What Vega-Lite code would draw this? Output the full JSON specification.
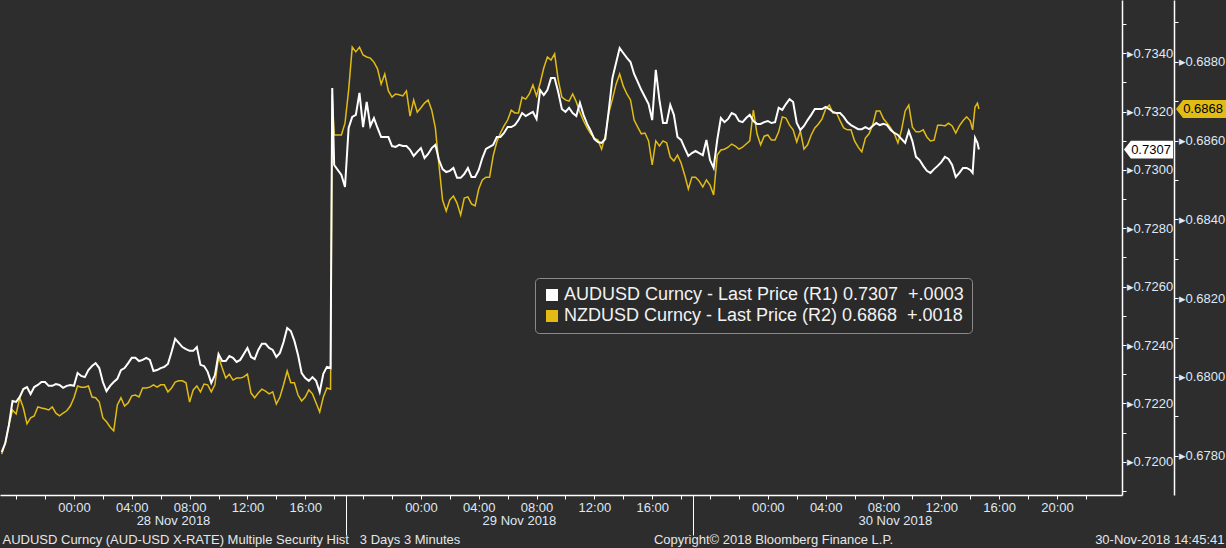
{
  "$schema": "https://vega.github.io/schema/vega-lite/v6.json",
  "width": 1122,
  "height": 495,
  "autosize": {"type": "none"},
  "padding": {"left": 0, "top": 0, "right": 104, "bottom": 53},
  "background": "#2d2d2d",
  "config": {"view": {"stroke": null}, "font": "Liberation Sans", "axis": {"grid": false}},
  "datasets": {
    "px": [
      {"t": "2018-11-27T19:00", "aud": 0.72033, "nzd": 0.67804},
      {"t": "2018-11-27T19:15", "aud": 0.72064, "nzd": 0.67832},
      {"t": "2018-11-27T19:30", "aud": 0.72126, "nzd": 0.67878},
      {"t": "2018-11-27T19:45", "aud": 0.72208, "nzd": 0.67916},
      {"t": "2018-11-27T20:00", "aud": 0.72205, "nzd": 0.67906},
      {"t": "2018-11-27T20:15", "aud": 0.72222, "nzd": 0.67947},
      {"t": "2018-11-27T20:30", "aud": 0.72249, "nzd": 0.67921},
      {"t": "2018-11-27T20:45", "aud": 0.72256, "nzd": 0.67881},
      {"t": "2018-11-27T21:00", "aud": 0.72232, "nzd": 0.67896},
      {"t": "2018-11-27T21:15", "aud": 0.72256, "nzd": 0.67901},
      {"t": "2018-11-27T21:30", "aud": 0.72263, "nzd": 0.67924},
      {"t": "2018-11-27T21:45", "aud": 0.72273, "nzd": 0.67921},
      {"t": "2018-11-27T22:00", "aud": 0.72273, "nzd": 0.67919},
      {"t": "2018-11-27T22:15", "aud": 0.72260, "nzd": 0.67916},
      {"t": "2018-11-27T22:30", "aud": 0.72260, "nzd": 0.67924},
      {"t": "2018-11-27T22:45", "aud": 0.72266, "nzd": 0.67908},
      {"t": "2018-11-27T23:00", "aud": 0.72263, "nzd": 0.67901},
      {"t": "2018-11-27T23:15", "aud": 0.72253, "nzd": 0.67908},
      {"t": "2018-11-27T23:30", "aud": 0.72260, "nzd": 0.67914},
      {"t": "2018-11-27T23:45", "aud": 0.72263, "nzd": 0.67926},
      {"t": "2018-11-28T00:00", "aud": 0.72260, "nzd": 0.67947},
      {"t": "2018-11-28T00:15", "aud": 0.72304, "nzd": 0.67977},
      {"t": "2018-11-28T00:30", "aud": 0.72294, "nzd": 0.67974},
      {"t": "2018-11-28T00:45", "aud": 0.72290, "nzd": 0.67974},
      {"t": "2018-11-28T01:00", "aud": 0.72314, "nzd": 0.67977},
      {"t": "2018-11-28T01:15", "aud": 0.72328, "nzd": 0.67949},
      {"t": "2018-11-28T01:30", "aud": 0.72338, "nzd": 0.67947},
      {"t": "2018-11-28T01:45", "aud": 0.72321, "nzd": 0.67936},
      {"t": "2018-11-28T02:00", "aud": 0.72273, "nzd": 0.67896},
      {"t": "2018-11-28T02:15", "aud": 0.72242, "nzd": 0.67886},
      {"t": "2018-11-28T02:30", "aud": 0.72260, "nzd": 0.67873},
      {"t": "2018-11-28T02:45", "aud": 0.72273, "nzd": 0.67863},
      {"t": "2018-11-28T03:00", "aud": 0.72284, "nzd": 0.67929},
      {"t": "2018-11-28T03:15", "aud": 0.72314, "nzd": 0.67947},
      {"t": "2018-11-28T03:30", "aud": 0.72321, "nzd": 0.67926},
      {"t": "2018-11-28T03:45", "aud": 0.72338, "nzd": 0.67934},
      {"t": "2018-11-28T04:00", "aud": 0.72356, "nzd": 0.67952},
      {"t": "2018-11-28T04:15", "aud": 0.72356, "nzd": 0.67954},
      {"t": "2018-11-28T04:30", "aud": 0.72345, "nzd": 0.67949},
      {"t": "2018-11-28T04:45", "aud": 0.72349, "nzd": 0.67972},
      {"t": "2018-11-28T05:00", "aud": 0.72356, "nzd": 0.67972},
      {"t": "2018-11-28T05:15", "aud": 0.72349, "nzd": 0.67974},
      {"t": "2018-11-28T05:30", "aud": 0.72311, "nzd": 0.67980},
      {"t": "2018-11-28T05:45", "aud": 0.72314, "nzd": 0.67974},
      {"t": "2018-11-28T06:00", "aud": 0.72321, "nzd": 0.67980},
      {"t": "2018-11-28T06:15", "aud": 0.72325, "nzd": 0.67980},
      {"t": "2018-11-28T06:30", "aud": 0.72335, "nzd": 0.67962},
      {"t": "2018-11-28T06:45", "aud": 0.72376, "nzd": 0.67972},
      {"t": "2018-11-28T07:00", "aud": 0.72421, "nzd": 0.67987},
      {"t": "2018-11-28T07:15", "aud": 0.72407, "nzd": 0.67990},
      {"t": "2018-11-28T07:30", "aud": 0.72393, "nzd": 0.67990},
      {"t": "2018-11-28T07:45", "aud": 0.72386, "nzd": 0.67985},
      {"t": "2018-11-28T08:00", "aud": 0.72380, "nzd": 0.67936},
      {"t": "2018-11-28T08:15", "aud": 0.72380, "nzd": 0.67967},
      {"t": "2018-11-28T08:30", "aud": 0.72393, "nzd": 0.67977},
      {"t": "2018-11-28T08:45", "aud": 0.72332, "nzd": 0.67962},
      {"t": "2018-11-28T09:00", "aud": 0.72328, "nzd": 0.67982},
      {"t": "2018-11-28T09:15", "aud": 0.72308, "nzd": 0.67980},
      {"t": "2018-11-28T09:30", "aud": 0.72270, "nzd": 0.67962},
      {"t": "2018-11-28T09:45", "aud": 0.72297, "nzd": 0.67980},
      {"t": "2018-11-28T10:00", "aud": 0.72369, "nzd": 0.68051},
      {"t": "2018-11-28T10:15", "aud": 0.72345, "nzd": 0.68023},
      {"t": "2018-11-28T10:30", "aud": 0.72345, "nzd": 0.67997},
      {"t": "2018-11-28T10:45", "aud": 0.72362, "nzd": 0.68007},
      {"t": "2018-11-28T11:00", "aud": 0.72356, "nzd": 0.67992},
      {"t": "2018-11-28T11:15", "aud": 0.72342, "nzd": 0.67997},
      {"t": "2018-11-28T11:30", "aud": 0.72349, "nzd": 0.67997},
      {"t": "2018-11-28T11:45", "aud": 0.72369, "nzd": 0.68000},
      {"t": "2018-11-28T12:00", "aud": 0.72390, "nzd": 0.68007},
      {"t": "2018-11-28T12:15", "aud": 0.72359, "nzd": 0.67959},
      {"t": "2018-11-28T12:30", "aud": 0.72352, "nzd": 0.67947},
      {"t": "2018-11-28T12:45", "aud": 0.72383, "nzd": 0.67959},
      {"t": "2018-11-28T13:00", "aud": 0.72404, "nzd": 0.67969},
      {"t": "2018-11-28T13:15", "aud": 0.72404, "nzd": 0.67964},
      {"t": "2018-11-28T13:30", "aud": 0.72390, "nzd": 0.67957},
      {"t": "2018-11-28T13:45", "aud": 0.72383, "nzd": 0.67962},
      {"t": "2018-11-28T14:00", "aud": 0.72359, "nzd": 0.67931},
      {"t": "2018-11-28T14:15", "aud": 0.72373, "nzd": 0.67949},
      {"t": "2018-11-28T14:30", "aud": 0.72410, "nzd": 0.67980},
      {"t": "2018-11-28T14:45", "aud": 0.72458, "nzd": 0.68015},
      {"t": "2018-11-28T15:00", "aud": 0.72448, "nzd": 0.67985},
      {"t": "2018-11-28T15:15", "aud": 0.72414, "nzd": 0.67985},
      {"t": "2018-11-28T15:30", "aud": 0.72366, "nzd": 0.67954},
      {"t": "2018-11-28T15:45", "aud": 0.72304, "nzd": 0.67939},
      {"t": "2018-11-28T16:00", "aud": 0.72287, "nzd": 0.67949},
      {"t": "2018-11-28T16:15", "aud": 0.72277, "nzd": 0.67967},
      {"t": "2018-11-28T16:30", "aud": 0.72290, "nzd": 0.67957},
      {"t": "2018-11-28T16:45", "aud": 0.72277, "nzd": 0.67934},
      {"t": "2018-11-28T17:00", "aud": 0.72239, "nzd": 0.67911},
      {"t": "2018-11-28T17:15", "aud": 0.72301, "nzd": 0.67949},
      {"t": "2018-11-28T17:30", "aud": 0.72325, "nzd": 0.67972},
      {"t": "2018-11-28T17:45", "aud": 0.72321, "nzd": 0.67969},
      {"t": "2018-11-28T17:52", "aud": 0.73281, "nzd": 0.68716},
      {"t": "2018-11-28T18:00", "aud": 0.73017, "nzd": 0.68614},
      {"t": "2018-11-28T18:30", "aud": 0.72983, "nzd": 0.68614},
      {"t": "2018-11-28T18:45", "aud": 0.72942, "nzd": 0.68644},
      {"t": "2018-11-28T19:00", "aud": 0.73144, "nzd": 0.68728},
      {"t": "2018-11-28T19:15", "aud": 0.73182, "nzd": 0.68837},
      {"t": "2018-11-28T19:30", "aud": 0.73189, "nzd": 0.68825},
      {"t": "2018-11-28T19:45", "aud": 0.73264, "nzd": 0.68837},
      {"t": "2018-11-28T20:00", "aud": 0.73147, "nzd": 0.68817},
      {"t": "2018-11-28T20:15", "aud": 0.73233, "nzd": 0.68812},
      {"t": "2018-11-28T20:30", "aud": 0.73151, "nzd": 0.68809},
      {"t": "2018-11-28T20:45", "aud": 0.73178, "nzd": 0.68799},
      {"t": "2018-11-28T21:00", "aud": 0.73144, "nzd": 0.68782},
      {"t": "2018-11-28T21:15", "aud": 0.73113, "nzd": 0.68743},
      {"t": "2018-11-28T21:30", "aud": 0.73113, "nzd": 0.68769},
      {"t": "2018-11-28T21:45", "aud": 0.73113, "nzd": 0.68726},
      {"t": "2018-11-28T22:00", "aud": 0.73082, "nzd": 0.68710},
      {"t": "2018-11-28T22:15", "aud": 0.73079, "nzd": 0.68718},
      {"t": "2018-11-28T22:30", "aud": 0.73086, "nzd": 0.68716},
      {"t": "2018-11-28T22:45", "aud": 0.73082, "nzd": 0.68713},
      {"t": "2018-11-28T23:00", "aud": 0.73082, "nzd": 0.68726},
      {"t": "2018-11-28T23:15", "aud": 0.73069, "nzd": 0.68662},
      {"t": "2018-11-28T23:30", "aud": 0.73048, "nzd": 0.68703},
      {"t": "2018-11-28T23:45", "aud": 0.73062, "nzd": 0.68672},
      {"t": "2018-11-29T00:00", "aud": 0.73075, "nzd": 0.68683},
      {"t": "2018-11-29T00:15", "aud": 0.73041, "nzd": 0.68695},
      {"t": "2018-11-29T00:30", "aud": 0.73055, "nzd": 0.68703},
      {"t": "2018-11-29T00:45", "aud": 0.73075, "nzd": 0.68677},
      {"t": "2018-11-29T01:00", "aud": 0.73086, "nzd": 0.68632},
      {"t": "2018-11-29T01:15", "aud": 0.73034, "nzd": 0.68538},
      {"t": "2018-11-29T01:30", "aud": 0.73003, "nzd": 0.68449},
      {"t": "2018-11-29T01:45", "aud": 0.72993, "nzd": 0.68421},
      {"t": "2018-11-29T02:00", "aud": 0.72997, "nzd": 0.68449},
      {"t": "2018-11-29T02:15", "aud": 0.73007, "nzd": 0.68459},
      {"t": "2018-11-29T02:30", "aud": 0.72973, "nzd": 0.68441},
      {"t": "2018-11-29T02:45", "aud": 0.72973, "nzd": 0.68411},
      {"t": "2018-11-29T03:00", "aud": 0.72986, "nzd": 0.68454},
      {"t": "2018-11-29T03:15", "aud": 0.73007, "nzd": 0.68457},
      {"t": "2018-11-29T03:30", "aud": 0.72976, "nzd": 0.68439},
      {"t": "2018-11-29T03:45", "aud": 0.72976, "nzd": 0.68434},
      {"t": "2018-11-29T04:00", "aud": 0.73000, "nzd": 0.68477},
      {"t": "2018-11-29T04:15", "aud": 0.73041, "nzd": 0.68500},
      {"t": "2018-11-29T04:30", "aud": 0.73072, "nzd": 0.68507},
      {"t": "2018-11-29T04:45", "aud": 0.73079, "nzd": 0.68507},
      {"t": "2018-11-29T05:00", "aud": 0.73086, "nzd": 0.68561},
      {"t": "2018-11-29T05:15", "aud": 0.73113, "nzd": 0.68596},
      {"t": "2018-11-29T05:30", "aud": 0.73113, "nzd": 0.68619},
      {"t": "2018-11-29T05:45", "aud": 0.73127, "nzd": 0.68637},
      {"t": "2018-11-29T06:00", "aud": 0.73147, "nzd": 0.68652},
      {"t": "2018-11-29T06:15", "aud": 0.73147, "nzd": 0.68677},
      {"t": "2018-11-29T06:30", "aud": 0.73154, "nzd": 0.68670},
      {"t": "2018-11-29T06:45", "aud": 0.73171, "nzd": 0.68670},
      {"t": "2018-11-29T07:00", "aud": 0.73195, "nzd": 0.68710},
      {"t": "2018-11-29T07:15", "aud": 0.73185, "nzd": 0.68705},
      {"t": "2018-11-29T07:30", "aud": 0.73192, "nzd": 0.68718},
      {"t": "2018-11-29T07:45", "aud": 0.73199, "nzd": 0.68741},
      {"t": "2018-11-29T08:00", "aud": 0.73175, "nzd": 0.68713},
      {"t": "2018-11-29T08:15", "aud": 0.73274, "nzd": 0.68746},
      {"t": "2018-11-29T08:30", "aud": 0.73257, "nzd": 0.68784},
      {"t": "2018-11-29T08:45", "aud": 0.73274, "nzd": 0.68812},
      {"t": "2018-11-29T09:00", "aud": 0.73315, "nzd": 0.68804},
      {"t": "2018-11-29T09:15", "aud": 0.73315, "nzd": 0.68820},
      {"t": "2018-11-29T09:30", "aud": 0.73267, "nzd": 0.68754},
      {"t": "2018-11-29T09:45", "aud": 0.73209, "nzd": 0.68710},
      {"t": "2018-11-29T10:00", "aud": 0.73199, "nzd": 0.68703},
      {"t": "2018-11-29T10:15", "aud": 0.73213, "nzd": 0.68700},
      {"t": "2018-11-29T10:30", "aud": 0.73195, "nzd": 0.68718},
      {"t": "2018-11-29T10:45", "aud": 0.73185, "nzd": 0.68698},
      {"t": "2018-11-29T11:00", "aud": 0.73230, "nzd": 0.68672},
      {"t": "2018-11-29T11:15", "aud": 0.73189, "nzd": 0.68650},
      {"t": "2018-11-29T11:30", "aud": 0.73158, "nzd": 0.68632},
      {"t": "2018-11-29T11:45", "aud": 0.73134, "nzd": 0.68617},
      {"t": "2018-11-29T12:00", "aud": 0.73106, "nzd": 0.68606},
      {"t": "2018-11-29T12:15", "aud": 0.73096, "nzd": 0.68601},
      {"t": "2018-11-29T12:30", "aud": 0.73093, "nzd": 0.68578},
      {"t": "2018-11-29T12:45", "aud": 0.73106, "nzd": 0.68611},
      {"t": "2018-11-29T13:00", "aud": 0.73206, "nzd": 0.68670},
      {"t": "2018-11-29T13:15", "aud": 0.73315, "nzd": 0.68705},
      {"t": "2018-11-29T13:30", "aud": 0.73367, "nzd": 0.68743},
      {"t": "2018-11-29T13:45", "aud": 0.73418, "nzd": 0.68769},
      {"t": "2018-11-29T14:00", "aud": 0.73401, "nzd": 0.68738},
      {"t": "2018-11-29T14:15", "aud": 0.73384, "nzd": 0.68718},
      {"t": "2018-11-29T14:30", "aud": 0.73370, "nzd": 0.68703},
      {"t": "2018-11-29T14:45", "aud": 0.73329, "nzd": 0.68652},
      {"t": "2018-11-29T15:00", "aud": 0.73302, "nzd": 0.68634},
      {"t": "2018-11-29T15:15", "aud": 0.73274, "nzd": 0.68617},
      {"t": "2018-11-29T15:30", "aud": 0.73250, "nzd": 0.68619},
      {"t": "2018-11-29T15:45", "aud": 0.73226, "nzd": 0.68599},
      {"t": "2018-11-29T16:00", "aud": 0.73171, "nzd": 0.68538},
      {"t": "2018-11-29T16:15", "aud": 0.73343, "nzd": 0.68599},
      {"t": "2018-11-29T16:30", "aud": 0.73240, "nzd": 0.68586},
      {"t": "2018-11-29T16:45", "aud": 0.73161, "nzd": 0.68599},
      {"t": "2018-11-29T17:00", "aud": 0.73161, "nzd": 0.68594},
      {"t": "2018-11-29T17:15", "aud": 0.73223, "nzd": 0.68558},
      {"t": "2018-11-29T17:30", "aud": 0.73189, "nzd": 0.68548},
      {"t": "2018-11-29T17:45", "aud": 0.73113, "nzd": 0.68563},
      {"t": "2018-11-29T18:00", "aud": 0.73103, "nzd": 0.68543},
      {"t": "2018-11-29T18:15", "aud": 0.73075, "nzd": 0.68512},
      {"t": "2018-11-29T18:30", "aud": 0.73048, "nzd": 0.68477},
      {"t": "2018-11-29T18:45", "aud": 0.73058, "nzd": 0.68507},
      {"t": "2018-11-29T19:00", "aud": 0.73065, "nzd": 0.68507},
      {"t": "2018-11-29T19:15", "aud": 0.73058, "nzd": 0.68497},
      {"t": "2018-11-29T19:30", "aud": 0.73051, "nzd": 0.68482},
      {"t": "2018-11-29T19:45", "aud": 0.73103, "nzd": 0.68500},
      {"t": "2018-11-29T20:00", "aud": 0.73034, "nzd": 0.68487},
      {"t": "2018-11-29T20:15", "aud": 0.73007, "nzd": 0.68462},
      {"t": "2018-11-29T20:30", "aud": 0.73103, "nzd": 0.68563},
      {"t": "2018-11-29T20:45", "aud": 0.73178, "nzd": 0.68576},
      {"t": "2018-11-29T21:00", "aud": 0.73164, "nzd": 0.68578},
      {"t": "2018-11-29T21:15", "aud": 0.73175, "nzd": 0.68583},
      {"t": "2018-11-29T21:30", "aud": 0.73195, "nzd": 0.68591},
      {"t": "2018-11-29T21:45", "aud": 0.73189, "nzd": 0.68586},
      {"t": "2018-11-29T22:00", "aud": 0.73168, "nzd": 0.68578},
      {"t": "2018-11-29T22:15", "aud": 0.73164, "nzd": 0.68583},
      {"t": "2018-11-29T22:30", "aud": 0.73178, "nzd": 0.68591},
      {"t": "2018-11-29T22:45", "aud": 0.73189, "nzd": 0.68599},
      {"t": "2018-11-29T23:00", "aud": 0.73168, "nzd": 0.68677},
      {"t": "2018-11-29T23:15", "aud": 0.73158, "nzd": 0.68617},
      {"t": "2018-11-29T23:30", "aud": 0.73158, "nzd": 0.68589},
      {"t": "2018-11-29T23:45", "aud": 0.73164, "nzd": 0.68611},
      {"t": "2018-11-30T00:00", "aud": 0.73168, "nzd": 0.68614},
      {"t": "2018-11-30T00:15", "aud": 0.73161, "nzd": 0.68601},
      {"t": "2018-11-30T00:30", "aud": 0.73164, "nzd": 0.68601},
      {"t": "2018-11-30T00:45", "aud": 0.73213, "nzd": 0.68622},
      {"t": "2018-11-30T01:00", "aud": 0.73206, "nzd": 0.68660},
      {"t": "2018-11-30T01:15", "aud": 0.73226, "nzd": 0.68657},
      {"t": "2018-11-30T01:30", "aud": 0.73243, "nzd": 0.68639},
      {"t": "2018-11-30T01:45", "aud": 0.73233, "nzd": 0.68627},
      {"t": "2018-11-30T02:00", "aud": 0.73161, "nzd": 0.68596},
      {"t": "2018-11-30T02:15", "aud": 0.73137, "nzd": 0.68624},
      {"t": "2018-11-30T02:30", "aud": 0.73151, "nzd": 0.68578},
      {"t": "2018-11-30T02:45", "aud": 0.73171, "nzd": 0.68589},
      {"t": "2018-11-30T03:00", "aud": 0.73189, "nzd": 0.68614},
      {"t": "2018-11-30T03:15", "aud": 0.73209, "nzd": 0.68632},
      {"t": "2018-11-30T03:30", "aud": 0.73209, "nzd": 0.68642},
      {"t": "2018-11-30T03:45", "aud": 0.73209, "nzd": 0.68655},
      {"t": "2018-11-30T04:00", "aud": 0.73216, "nzd": 0.68680},
      {"t": "2018-11-30T04:15", "aud": 0.73209, "nzd": 0.68690},
      {"t": "2018-11-30T04:30", "aud": 0.73199, "nzd": 0.68670},
      {"t": "2018-11-30T04:45", "aud": 0.73195, "nzd": 0.68670},
      {"t": "2018-11-30T05:00", "aud": 0.73195, "nzd": 0.68650},
      {"t": "2018-11-30T05:15", "aud": 0.73182, "nzd": 0.68632},
      {"t": "2018-11-30T05:30", "aud": 0.73164, "nzd": 0.68627},
      {"t": "2018-11-30T05:45", "aud": 0.73154, "nzd": 0.68627},
      {"t": "2018-11-30T06:00", "aud": 0.73147, "nzd": 0.68599},
      {"t": "2018-11-30T06:15", "aud": 0.73140, "nzd": 0.68583},
      {"t": "2018-11-30T06:30", "aud": 0.73140, "nzd": 0.68571},
      {"t": "2018-11-30T06:45", "aud": 0.73147, "nzd": 0.68606},
      {"t": "2018-11-30T07:00", "aud": 0.73140, "nzd": 0.68617},
      {"t": "2018-11-30T07:15", "aud": 0.73151, "nzd": 0.68639},
      {"t": "2018-11-30T07:30", "aud": 0.73161, "nzd": 0.68675},
      {"t": "2018-11-30T07:45", "aud": 0.73154, "nzd": 0.68675},
      {"t": "2018-11-30T08:00", "aud": 0.73158, "nzd": 0.68655},
      {"t": "2018-11-30T08:15", "aud": 0.73154, "nzd": 0.68644},
      {"t": "2018-11-30T08:30", "aud": 0.73137, "nzd": 0.68632},
      {"t": "2018-11-30T08:45", "aud": 0.73127, "nzd": 0.68617},
      {"t": "2018-11-30T09:00", "aud": 0.73120, "nzd": 0.68594},
      {"t": "2018-11-30T09:15", "aud": 0.73106, "nzd": 0.68627},
      {"t": "2018-11-30T09:30", "aud": 0.73093, "nzd": 0.68675},
      {"t": "2018-11-30T09:45", "aud": 0.73134, "nzd": 0.68690},
      {"t": "2018-11-30T10:00", "aud": 0.73099, "nzd": 0.68634},
      {"t": "2018-11-30T10:15", "aud": 0.73045, "nzd": 0.68622},
      {"t": "2018-11-30T10:30", "aud": 0.73034, "nzd": 0.68622},
      {"t": "2018-11-30T10:45", "aud": 0.73014, "nzd": 0.68627},
      {"t": "2018-11-30T11:00", "aud": 0.72997, "nzd": 0.68609},
      {"t": "2018-11-30T11:15", "aud": 0.72990, "nzd": 0.68599},
      {"t": "2018-11-30T11:30", "aud": 0.73003, "nzd": 0.68601},
      {"t": "2018-11-30T11:45", "aud": 0.73014, "nzd": 0.68639},
      {"t": "2018-11-30T12:00", "aud": 0.73027, "nzd": 0.68639},
      {"t": "2018-11-30T12:15", "aud": 0.73045, "nzd": 0.68637},
      {"t": "2018-11-30T12:30", "aud": 0.73038, "nzd": 0.68644},
      {"t": "2018-11-30T12:45", "aud": 0.73017, "nzd": 0.68637},
      {"t": "2018-11-30T13:00", "aud": 0.72976, "nzd": 0.68619},
      {"t": "2018-11-30T13:15", "aud": 0.72990, "nzd": 0.68637},
      {"t": "2018-11-30T13:30", "aud": 0.73007, "nzd": 0.68650},
      {"t": "2018-11-30T13:45", "aud": 0.73007, "nzd": 0.68660},
      {"t": "2018-11-30T14:00", "aud": 0.73000, "nzd": 0.68650},
      {"t": "2018-11-30T14:10", "aud": 0.72990, "nzd": 0.68627},
      {"t": "2018-11-30T14:20", "aud": 0.73110, "nzd": 0.68685},
      {"t": "2018-11-30T14:30", "aud": 0.73093, "nzd": 0.68695},
      {"t": "2018-11-30T14:36", "aud": 0.73070, "nzd": 0.68680}
    ],
    "last": [{"aud": 0.7307, "nzd": 0.6868}]
  },
  "data": {"name": "px"},
  "layer": [
    {
      "layer": [
        {
          "mark": {"type": "line", "strokeWidth": 1.5},
          "encoding": {
            "x": {
              "field": "t", "type": "temporal",
              "scale": {"domain": [{"year": 2018, "month": 11, "date": 27, "hours": 18, "minutes": 53}, {"year": 2018, "month": 12, "date": 1, "hours": 0, "minutes": 30}]},
              "axis": {
                "orient": "bottom", "domain": false, "ticks": true, "tickColor": "#ffffff", "tickSize": 40, "tickWidth": 1,
                "values": [
                  {"year": 2018, "month": 11, "date": 28, "hours": 18, "minutes": 51},
                  {"year": 2018, "month": 11, "date": 29, "hours": 18, "minutes": 51},
                  {"year": 2018, "month": 11, "date": 28, "hours": 6, "minutes": 51},
                  {"year": 2018, "month": 11, "date": 29, "hours": 6, "minutes": 47},
                  {"year": 2018, "month": 11, "date": 30, "hours": 8, "minutes": 47}
                ],
                "tickOpacity": {"condition": {"test": "hours(datum.value) == 18", "value": 1}, "value": 0},
                "labelExpr": "hours(datum.value) == 18 ? '' : timeFormat(datum.value, '%d %b %Y')",
                "labelPadding": -21, "labelColor": "#dfe8f5", "labelFontSize": 13, "labelOverlap": false, "labelFlush": false,
                "title": "Copyright© 2018 Bloomberg Finance L.P.", "titleX": 773, "titleY": 44, "titleAlign": "center", "titleBaseline": "middle",
                "titleColor": "#e6e6e6", "titleFontSize": 13, "titleFontWeight": "normal", "titleLimit": 2000
              }
            },
            "y": {
              "field": "nzd", "type": "quantitative",
              "scale": {"domain": [0.677003, 0.689566], "nice": false, "zero": false},
              "axis": {
                "orient": "right", "offset": 52, "values": [0.677, 0.678, 0.679, 0.68, 0.681, 0.682, 0.683, 0.684, 0.685, 0.686, 0.687, 0.688, 0.689],
                "domainColor": "#ffffff", "domainWidth": 1.5, "tickColor": "#ffffff", "tickSize": 4,
                "labelExpr": "round(datum.value * 10000) % 20 == 0 ? '▸' + format(datum.value, '.4f') : ''",
                "labelPadding": 0, "labelColor": "#dfe8f5", "labelFontSize": 13, "labelBaseline": "middle", "labelFlush": false, "labelOverlap": false,
                "title": null
              }
            },
            "color": {
              "datum": "NZDUSD Curncy - Last Price (R2) 0.6868\u00a0\u00a0+.0018", "type": "nominal",
              "scale": {"domain": ["AUDUSD Curncy - Last Price (R1) 0.7307\u00a0\u00a0+.0003", "NZDUSD Curncy - Last Price (R2) 0.6868\u00a0\u00a0+.0018"], "range": ["#ffffff", "#e2bc14"]},
              "legend": {
                "orient": "none", "legendX": 535, "legendY": 278, "title": null, "symbolType": "square", "symbolSize": 144, "symbolStrokeWidth": 0,
                "labelFontSize": 18, "labelColor": "#f2f2f2", "labelLimit": 0, "padding": 8, "rowPadding": 3, "fillColor": "#2a2a2a",
                "strokeColor": "#8a8a8a", "cornerRadius": 4, "labelOffset": 3,
                "encode": {"symbols": {"update": {"fill": {"scale": "color", "field": "value"}, "stroke": {"value": "transparent"}}}}
              }
            }
          }
        },
        {
          "data": {"name": "last"},
          "mark": {"type": "point", "shape": "M -1 0 L -0.72 -0.36 L 1 -0.36 L 1 0.36 L -0.72 0.36 Z", "size": 2500, "filled": true, "fill": "#e2bc14", "opacity": 1, "strokeWidth": 0, "xOffset": 79},
          "encoding": {
            "x": {"value": "width"},
            "y": {
              "field": "nzd", "type": "quantitative",
              "scale": {"domain": [0.677003, 0.689566], "nice": false, "zero": false},
              "axis": {
                "orient": "right", "offset": 52, "values": [0.677, 0.678, 0.679, 0.68, 0.681, 0.682, 0.683, 0.684, 0.685, 0.686, 0.687, 0.688, 0.689],
                "domainColor": "#ffffff", "domainWidth": 1.5, "tickColor": "#ffffff", "tickSize": 4,
                "labelExpr": "round(datum.value * 10000) % 20 == 0 ? '▸' + format(datum.value, '.4f') : ''",
                "labelPadding": 0, "labelColor": "#dfe8f5", "labelFontSize": 13, "labelBaseline": "middle", "labelFlush": false, "labelOverlap": false,
                "title": null
              }
            }
          }
        },
        {
          "data": {"name": "last"},
          "mark": {"type": "text", "dx": 81, "align": "center", "baseline": "middle", "fontSize": 13, "color": "#000000"},
          "encoding": {
            "x": {"value": "width"},
            "y": {
              "field": "nzd", "type": "quantitative",
              "scale": {"domain": [0.677003, 0.689566], "nice": false, "zero": false},
              "axis": {
                "orient": "right", "offset": 52, "values": [0.677, 0.678, 0.679, 0.68, 0.681, 0.682, 0.683, 0.684, 0.685, 0.686, 0.687, 0.688, 0.689],
                "domainColor": "#ffffff", "domainWidth": 1.5, "tickColor": "#ffffff", "tickSize": 4,
                "labelExpr": "round(datum.value * 10000) % 20 == 0 ? '▸' + format(datum.value, '.4f') : ''",
                "labelPadding": 0, "labelColor": "#dfe8f5", "labelFontSize": 13, "labelBaseline": "middle", "labelFlush": false, "labelOverlap": false,
                "title": null
              }
            },
            "text": {"field": "nzd", "type": "quantitative", "format": ".4f"}
          }
        }
      ]
    },
    {
      "layer": [
        {
          "mark": {"type": "line", "strokeWidth": 2},
          "encoding": {
            "x": {
              "field": "t", "type": "temporal",
              "axis": {
                "orient": "bottom", "domain": true, "domainColor": "#ffffff", "domainWidth": 1.5, "ticks": true, "tickColor": "#ffffff", "tickSize": 4,
                "values": [
                  {"year": 2018, "month": 11, "date": 27, "hours": 20}, {"year": 2018, "month": 11, "date": 27, "hours": 22},
                  {"year": 2018, "month": 11, "date": 28, "hours": 0}, {"year": 2018, "month": 11, "date": 28, "hours": 2},
                  {"year": 2018, "month": 11, "date": 28, "hours": 4}, {"year": 2018, "month": 11, "date": 28, "hours": 6},
                  {"year": 2018, "month": 11, "date": 28, "hours": 8}, {"year": 2018, "month": 11, "date": 28, "hours": 10},
                  {"year": 2018, "month": 11, "date": 28, "hours": 12}, {"year": 2018, "month": 11, "date": 28, "hours": 14},
                  {"year": 2018, "month": 11, "date": 28, "hours": 16}, {"year": 2018, "month": 11, "date": 28, "hours": 18},
                  {"year": 2018, "month": 11, "date": 28, "hours": 20}, {"year": 2018, "month": 11, "date": 28, "hours": 22},
                  {"year": 2018, "month": 11, "date": 29, "hours": 0}, {"year": 2018, "month": 11, "date": 29, "hours": 2},
                  {"year": 2018, "month": 11, "date": 29, "hours": 4}, {"year": 2018, "month": 11, "date": 29, "hours": 6},
                  {"year": 2018, "month": 11, "date": 29, "hours": 8}, {"year": 2018, "month": 11, "date": 29, "hours": 10},
                  {"year": 2018, "month": 11, "date": 29, "hours": 12}, {"year": 2018, "month": 11, "date": 29, "hours": 14},
                  {"year": 2018, "month": 11, "date": 29, "hours": 16}, {"year": 2018, "month": 11, "date": 29, "hours": 18},
                  {"year": 2018, "month": 11, "date": 29, "hours": 20}, {"year": 2018, "month": 11, "date": 29, "hours": 22},
                  {"year": 2018, "month": 11, "date": 30, "hours": 0}, {"year": 2018, "month": 11, "date": 30, "hours": 2},
                  {"year": 2018, "month": 11, "date": 30, "hours": 4}, {"year": 2018, "month": 11, "date": 30, "hours": 6},
                  {"year": 2018, "month": 11, "date": 30, "hours": 8}, {"year": 2018, "month": 11, "date": 30, "hours": 10},
                  {"year": 2018, "month": 11, "date": 30, "hours": 12}, {"year": 2018, "month": 11, "date": 30, "hours": 14},
                  {"year": 2018, "month": 11, "date": 30, "hours": 16}, {"year": 2018, "month": 11, "date": 30, "hours": 18},
                  {"year": 2018, "month": 11, "date": 30, "hours": 20}, {"year": 2018, "month": 11, "date": 30, "hours": 22}
                ],
                "labelExpr": "(hours(datum.value) % 4 == 0 && !(hours(datum.value) == 20 && date(datum.value) < 30)) ? timeFormat(datum.value, '%H:%M') : ''",
                "labelColor": "#dfe8f5", "labelFontSize": 13, "labelPadding": 2, "labelOverlap": false, "labelFlush": false,
                "title": "AUDUSD Curncy (AUD-USD X-RATE) Multiple Security Hist\u00a0\u00a0 3 Days 3 Minutes", "titleX": 2, "titleY": 44, "titleAlign": "left", "titleBaseline": "middle",
                "titleColor": "#e6e6e6", "titleFontSize": 13, "titleFontWeight": "normal", "titleLimit": 2000
              }
            },
            "y": {
              "field": "aud", "type": "quantitative",
              "scale": {"domain": [0.718858, 0.735827], "nice": false, "zero": false},
              "axis": {
                "orient": "right", "offset": 0, "values": [0.719, 0.72, 0.721, 0.722, 0.723, 0.724, 0.725, 0.726, 0.727, 0.728, 0.729, 0.73, 0.731, 0.732, 0.733, 0.734, 0.735],
                "domainColor": "#ffffff", "domainWidth": 1.5, "tickColor": "#ffffff", "tickSize": 4,
                "labelExpr": "round(datum.value * 10000) % 20 == 0 ? '▸' + format(datum.value, '.4f') : ''",
                "labelPadding": 0, "labelColor": "#dfe8f5", "labelFontSize": 13, "labelBaseline": "middle", "labelFlush": false, "labelOverlap": false,
                "title": "30-Nov-2018 14:45:41", "titleAngle": 0, "titleX": 102, "titleY": 539, "titleAlign": "right", "titleBaseline": "middle",
                "titleColor": "#e6e6e6", "titleFontSize": 13, "titleFontWeight": "normal", "titleLimit": 2000
              }
            },
            "color": {"datum": "AUDUSD Curncy - Last Price (R1) 0.7307\u00a0\u00a0+.0003", "type": "nominal"}
          }
        },
        {
          "data": {"name": "last"},
          "mark": {"type": "point", "shape": "M -1 0 L -0.72 -0.36 L 1 -0.36 L 1 0.36 L -0.72 0.36 Z", "size": 2401, "filled": true, "fill": "#ffffff", "opacity": 1, "strokeWidth": 0, "xOffset": 26.5},
          "encoding": {
            "x": {"value": "width"},
            "y": {
              "field": "aud", "type": "quantitative",
              "scale": {"domain": [0.718858, 0.735827], "nice": false, "zero": false},
              "axis": {
                "orient": "right", "offset": 0, "values": [0.719, 0.72, 0.721, 0.722, 0.723, 0.724, 0.725, 0.726, 0.727, 0.728, 0.729, 0.73, 0.731, 0.732, 0.733, 0.734, 0.735],
                "domainColor": "#ffffff", "domainWidth": 1.5, "tickColor": "#ffffff", "tickSize": 4,
                "labelExpr": "round(datum.value * 10000) % 20 == 0 ? '▸' + format(datum.value, '.4f') : ''",
                "labelPadding": 0, "labelColor": "#dfe8f5", "labelFontSize": 13, "labelBaseline": "middle", "labelFlush": false, "labelOverlap": false,
                "title": "30-Nov-2018 14:45:41", "titleAngle": 0, "titleX": 102, "titleY": 539, "titleAlign": "right", "titleBaseline": "middle",
                "titleColor": "#e6e6e6", "titleFontSize": 13, "titleFontWeight": "normal", "titleLimit": 2000
              }
            }
          }
        },
        {
          "data": {"name": "last"},
          "mark": {"type": "text", "dx": 29, "align": "center", "baseline": "middle", "fontSize": 13, "color": "#000000"},
          "encoding": {
            "x": {"value": "width"},
            "y": {
              "field": "aud", "type": "quantitative",
              "scale": {"domain": [0.718858, 0.735827], "nice": false, "zero": false},
              "axis": {
                "orient": "right", "offset": 0, "values": [0.719, 0.72, 0.721, 0.722, 0.723, 0.724, 0.725, 0.726, 0.727, 0.728, 0.729, 0.73, 0.731, 0.732, 0.733, 0.734, 0.735],
                "domainColor": "#ffffff", "domainWidth": 1.5, "tickColor": "#ffffff", "tickSize": 4,
                "labelExpr": "round(datum.value * 10000) % 20 == 0 ? '▸' + format(datum.value, '.4f') : ''",
                "labelPadding": 0, "labelColor": "#dfe8f5", "labelFontSize": 13, "labelBaseline": "middle", "labelFlush": false, "labelOverlap": false,
                "title": "30-Nov-2018 14:45:41", "titleAngle": 0, "titleX": 102, "titleY": 539, "titleAlign": "right", "titleBaseline": "middle",
                "titleColor": "#e6e6e6", "titleFontSize": 13, "titleFontWeight": "normal", "titleLimit": 2000
              }
            },
            "text": {"field": "aud", "type": "quantitative", "format": ".4f"}
          }
        }
      ]
    }
  ],
  "resolve": {"scale": {"y": "independent"}, "axis": {"x": "independent"}}
}
